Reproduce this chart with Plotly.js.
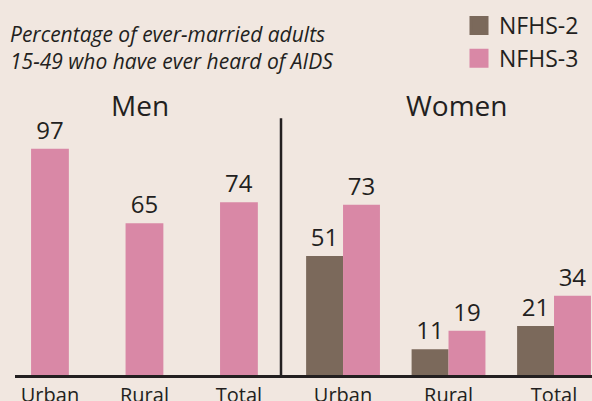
<!DOCTYPE html>
<html>
<head>
<meta charset="utf-8">
<script src="https://cdn.plot.ly/plotly-3.0.1.min.js"></script>
<style>html,body{margin:0;padding:0;background:#f1e7e0;}#chart{width:592px;height:401px;}</style>
</head>
<body>
<div id="chart"></div>
<script>
// Data
var menCategories = ["Urban", "Rural", "Total"];
var womenCategories = ["Urban", "Rural", "Total"];
var menNFHS3 = [97, 65, 74];
var womenNFHS2 = [51, 11, 21];
var womenNFHS3 = [73, 19, 34];
var seriesNames = ["NFHS-2", "NFHS-3"];
var chartTitle = "Percentage of ever-married adults<br>15-49 who have ever heard of AIDS";
var panelTitles = ["Men", "Women"];

var BROWN = "#7b695b";
var PINK = "#d988a6";
var INK = "#231f20";
var BG = "#f1e7e0";
var FONT = "Open Sans, sans-serif";

var traces = [
  {
    type: "bar", x: menCategories, y: menNFHS3, xaxis: "x", yaxis: "y",
    width: 0.40, marker: {color: PINK}, showlegend: false,
    text: menNFHS3.map(String), textposition: "outside", cliponaxis: false,
    textfont: {family: FONT, size: 24, color: INK}, hoverinfo: "skip"
  },
  {
    type: "bar", x: womenCategories, y: womenNFHS2, xaxis: "x2", yaxis: "y",
    width: 0.35, offset: -0.35, marker: {color: BROWN}, showlegend: false,
    text: womenNFHS2.map(String), textposition: "outside", cliponaxis: false,
    textfont: {family: FONT, size: 24, color: INK}, hoverinfo: "skip"
  },
  {
    type: "bar", x: womenCategories, y: womenNFHS3, xaxis: "x2", yaxis: "y",
    width: 0.35, offset: 0, marker: {color: PINK}, showlegend: false,
    text: womenNFHS3.map(String), textposition: "outside", cliponaxis: false,
    textfont: {family: FONT, size: 24, color: INK}, hoverinfo: "skip"
  },
  // legend entries
  {
    type: "scatter", mode: "markers", x: [null], y: [null], xaxis: "x2", yaxis: "y",
    name: seriesNames[0], marker: {symbol: "square", size: 16, color: BROWN, line: {width: 3, color: BROWN}}
  },
  {
    type: "scatter", mode: "markers", x: [null], y: [null], xaxis: "x2", yaxis: "y",
    name: seriesNames[1], marker: {symbol: "square", size: 16, color: PINK, line: {width: 3, color: PINK}}
  }
];

var split = (281 - 15) / 577;
var axisCommon = {
  type: "category", showline: true, linecolor: INK, linewidth: 2.5,
  ticks: "", showgrid: false, zeroline: false, fixedrange: true,
  tickfont: {family: FONT, size: 20, color: INK}
};

var layout = {
  width: 592, height: 401,
  margin: {l: 15, r: 0, t: 95, b: 26, pad: 0},
  paper_bgcolor: BG, plot_bgcolor: BG,
  barmode: "overlay",
  font: {family: FONT, color: INK},
  xaxis: Object.assign({}, axisCommon, {domain: [0, split], range: [-0.37, 2.445], anchor: "y"}),
  xaxis2: Object.assign({}, axisCommon, {domain: [split, 1], range: [-0.588, 2.36], anchor: "y"}),
  yaxis: {range: [0, 120], visible: false, fixedrange: true},
  showlegend: true,
  legend: {
    x: (459 - 15) / 577, xanchor: "left", y: 1 - 4 / 401, yanchor: "top", yref: "container",
    bgcolor: "rgba(0,0,0,0)", font: {family: FONT, size: 23, color: INK},
    tracegroupgap: 0, itemclick: false, itemdoubleclick: false
  },
  shapes: [
    {type: "line", xref: "paper", yref: "y", x0: split, x1: split, y0: 0, y1: 110,
     line: {color: INK, width: 2.5}}
  ],
  annotations: [
    {text: chartTitle, xref: "paper", yref: "paper", x: -7 / 577, y: (375 - 18) / 280,
     xanchor: "left", yanchor: "top", align: "left", showarrow: false,
     font: {family: FONT, size: 21, color: INK, style: "italic"}},
    {text: panelTitles[0], xref: "paper", yref: "paper", x: (140 - 15) / 577, y: (375 - 105) / 280,
     xanchor: "center", yanchor: "middle", showarrow: false,
     font: {family: FONT, size: 28, color: INK}},
    {text: panelTitles[1], xref: "paper", yref: "paper", x: (457 - 15) / 577, y: (375 - 105) / 280,
     xanchor: "center", yanchor: "middle", showarrow: false,
     font: {family: FONT, size: 28, color: INK}}
  ]
};

Plotly.newPlot("chart", traces, layout, {displayModeBar: false, staticPlot: true});
</script>
</body>
</html>
